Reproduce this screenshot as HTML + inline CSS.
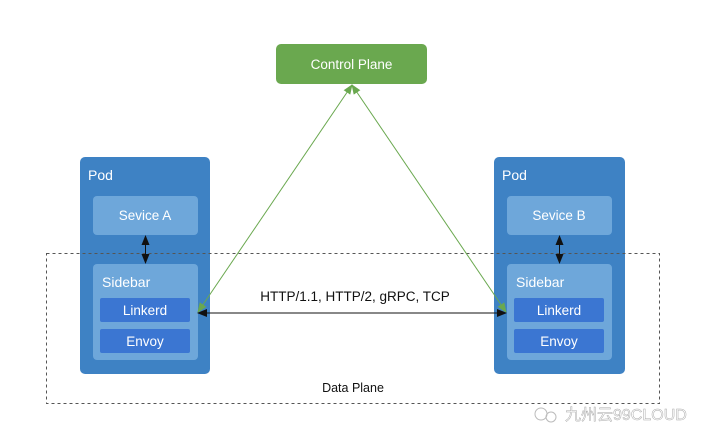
<!DOCTYPE html>
<html><head><meta charset="utf-8"><style>
html,body{margin:0;padding:0;background:#fff;width:716px;height:444px;overflow:hidden}
svg{display:block}
text{font-family:"Liberation Sans","Noto Sans CJK SC",sans-serif}
</style></head><body>
<svg width="716" height="444" viewBox="0 0 716 444" xmlns="http://www.w3.org/2000/svg">
<defs>
<marker id="ab" markerWidth="10" markerHeight="8" refX="9" refY="4" orient="auto-start-reverse" markerUnits="userSpaceOnUse"><path d="M0,0 L10,4 L0,8 z" fill="#111"/></marker>
<marker id="ag" markerWidth="10" markerHeight="8" refX="9" refY="4" orient="auto-start-reverse" markerUnits="userSpaceOnUse"><path d="M0,0 L10,4 L0,8 z" fill="#6aa84f"/></marker>
</defs>
<rect x="80" y="157" width="130" height="217" rx="5" fill="#3e82c4"/>
<rect x="494" y="157" width="131" height="217" rx="5" fill="#3e82c4"/>
<text x="88" y="180" font-size="14" fill="#fff">Pod</text>
<text x="502" y="180" font-size="14" fill="#fff">Pod</text>
<rect x="93" y="196" width="105" height="39" rx="4" fill="#6ea7da"/>
<rect x="507" y="196" width="105" height="39" rx="4" fill="#6ea7da"/>
<text x="145" y="220" font-size="13.5" fill="#fff" text-anchor="middle">Sevice A</text>
<text x="559" y="220" font-size="13.5" fill="#fff" text-anchor="middle">Sevice B</text>
<rect x="93" y="264" width="105" height="96" rx="4" fill="#6ea7da"/>
<rect x="507" y="264" width="105" height="96" rx="4" fill="#6ea7da"/>
<text x="102" y="287" font-size="14" fill="#fff">Sidebar</text>
<text x="516" y="287" font-size="14" fill="#fff">Sidebar</text>
<rect x="100" y="298" width="90" height="24" rx="2" fill="#3b76d2"/>
<rect x="100" y="329" width="90" height="24" rx="2" fill="#3b76d2"/>
<rect x="514" y="298" width="90" height="24" rx="2" fill="#3b76d2"/>
<rect x="514" y="329" width="90" height="24" rx="2" fill="#3b76d2"/>
<text x="145" y="315" font-size="13.5" fill="#fff" text-anchor="middle">Linkerd</text>
<text x="145" y="346" font-size="13.5" fill="#fff" text-anchor="middle">Envoy</text>
<text x="559" y="315" font-size="13.5" fill="#fff" text-anchor="middle">Linkerd</text>
<text x="559" y="346" font-size="13.5" fill="#fff" text-anchor="middle">Envoy</text>
<rect x="46.5" y="253.5" width="613" height="150" fill="none" stroke="#555" stroke-width="1" stroke-dasharray="3,3"/>
<text x="353" y="392" font-size="12.5" fill="#111" text-anchor="middle">Data Plane</text>
<line x1="145.5" y1="236" x2="145.5" y2="263" stroke="#111" stroke-width="1" marker-start="url(#ab)" marker-end="url(#ab)"/>
<line x1="559.5" y1="236" x2="559.5" y2="263" stroke="#111" stroke-width="1" marker-start="url(#ab)" marker-end="url(#ab)"/>
<rect x="276" y="44" width="151" height="40" rx="5" fill="#6aa84f"/>
<text x="351.5" y="69" font-size="13.5" fill="#fff" text-anchor="middle">Control Plane</text>
<line x1="352" y1="85" x2="198" y2="312" stroke="#6aa84f" stroke-width="1" marker-start="url(#ag)" marker-end="url(#ag)"/>
<line x1="352" y1="85" x2="506" y2="312" stroke="#6aa84f" stroke-width="1" marker-start="url(#ag)" marker-end="url(#ag)"/>
<line x1="198" y1="313" x2="506" y2="313" stroke="#111" stroke-width="1" marker-start="url(#ab)" marker-end="url(#ab)"/>
<text x="355" y="301" font-size="13.5" fill="#111" text-anchor="middle">HTTP/1.1, HTTP/2, gRPC, TCP</text>
<text x="565" y="420" font-size="16" fill="#fff" stroke="#aaa" stroke-width="0.5">九州云99CLOUD</text>
<circle cx="541" cy="414" r="6" fill="none" stroke="#bbb" stroke-width="1"/>
<circle cx="551" cy="417" r="5" fill="none" stroke="#bbb" stroke-width="1"/>
</svg>
</body></html>
